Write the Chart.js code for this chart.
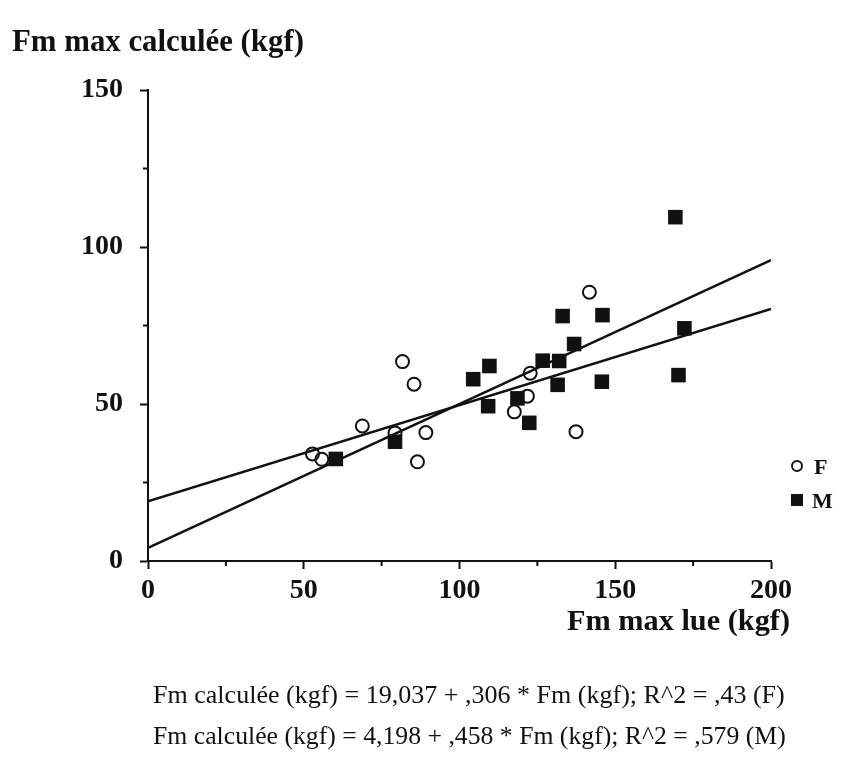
<!DOCTYPE html>
<html><head><meta charset="utf-8">
<script src="https://cdn.jsdelivr.net/npm/chart.js@4.4.1/dist/chart.umd.min.js"></script>
<style>html,body{margin:0;padding:0;background:#fff;} #wrap{position:relative;width:852px;height:765px;}</style>
</head><body><div id="wrap"><canvas id="c" width="852" height="765"></canvas></div>
<script>
// ---- data ----
const femX = [52.8, 55.8, 68.8, 79.3, 81.7, 85.4, 86.5, 89.2, 117.6, 121.8, 122.7, 137.4, 141.7];
const femY = [34.1, 32.4, 43.0, 40.8, 63.5, 56.3, 31.6, 40.9, 47.5, 52.5, 59.8, 41.2, 85.6];
const maleX = [60.3, 79.3, 104.4, 109.2, 109.6, 118.6, 122.4, 126.7, 132.0, 131.5, 133.1, 136.8, 145.7, 145.9, 169.3, 170.3, 172.2];
const maleY = [32.5, 38.0, 57.9, 49.3, 62.1, 51.8, 44.0, 63.8, 63.7, 56.1, 78.0, 69.1, 57.1, 78.3, 109.5, 59.2, 74.1];
const fitX = [0, 200];
const fitF = [19.04, 80.24];
const fitM = [4.20, 95.80];
const xTickLabels = [0, 50, 100, 150, 200];
const yTickLabels = [0, 50, 100, 150];
const xMinorTicks = [25, 75, 125, 175];
const yMinorTicks = [25, 75, 125];
const seriesNames = ['F', 'M'];
const yTitle = 'Fm max calculée (kgf)';
const xTitle = 'Fm max lue (kgf)';
const eqF = 'Fm calculée (kgf) = 19,037 + ,306 * Fm (kgf); R^2 = ,43 (F)';
const eqM = 'Fm calculée (kgf) = 4,198 + ,458 * Fm (kgf); R^2 = ,579 (M)';

const INK = '#111';
const SERIF = '"Liberation Serif", "Times New Roman", serif';
const pts = (xs, ys) => xs.map((x, i) => ({x: x, y: ys[i]}));

function fitText(ctx, txt, weight, x0, x1, base) {
  ctx.font = weight + ' 100px ' + SERIF;
  const w = ctx.measureText(txt).width;
  const size = 100 * (x1 - x0) / w;
  ctx.font = weight + ' ' + size.toFixed(2) + 'px ' + SERIF;
  ctx.fillText(txt, x0, base);
}

const annot = {
  id: 'annot',
  afterDraw(chart) {
    const ctx = chart.ctx;
    const xs = chart.scales.x, ys = chart.scales.y;
    ctx.save();
    // minor ticks (shorter)
    ctx.strokeStyle = INK;
    ctx.lineWidth = 2;
    ctx.beginPath();
    xMinorTicks.forEach(v => { const p = xs.getPixelForValue(v); ctx.moveTo(p, xs.top); ctx.lineTo(p, xs.top + 5); });
    yMinorTicks.forEach(v => { const p = ys.getPixelForValue(v); ctx.moveTo(ys.right, p); ctx.lineTo(ys.right - 5, p); });
    ctx.stroke();

    ctx.fillStyle = INK;
    ctx.textAlign = 'left';
    ctx.textBaseline = 'alphabetic';
    fitText(ctx, yTitle, 'bold', 12, 304, 51);
    fitText(ctx, xTitle, 'bold', 567, 790, 630);
    fitText(ctx, eqF, '', 153, 785, 703);
    fitText(ctx, eqM, '', 153, 786, 744);
    // legend
    ctx.beginPath();
    ctx.arc(797, 466, 5, 0, Math.PI * 2);
    ctx.stroke();
    ctx.fillRect(791, 494, 12, 12);
    ctx.font = 'bold 22px ' + SERIF;
    ctx.fillText(seriesNames[0], 814, 474);
    ctx.fillText(seriesNames[1], 812, 508);
    ctx.restore();
  }
};

const tickFont = {family: SERIF, size: 28, weight: 'bold'};
const majorTickColor = labels => c => (c.tick && labels.includes(c.tick.value)) ? INK : 'rgba(0,0,0,0)';

new Chart(document.getElementById('c'), {
  type: 'scatter',
  data: {
    datasets: [
      {label: seriesNames[0], data: pts(femX, femY), pointStyle: 'circle', pointRadius: 6.5,
       borderWidth: 2, borderColor: INK, backgroundColor: 'rgba(255,255,255,0)', order: 2},
      {label: seriesNames[1], data: pts(maleX, maleY), pointStyle: 'rect', pointRadius: 10.3,
       borderWidth: 0, borderColor: INK, backgroundColor: INK, order: 1},
      {label: 'fitF', type: 'line', data: pts(fitX, fitF), showLine: true, pointRadius: 0,
       borderColor: INK, borderWidth: 2.5, order: 0},
      {label: 'fitM', type: 'line', data: pts(fitX, fitM), showLine: true, pointRadius: 0,
       borderColor: INK, borderWidth: 2.5, order: 0}
    ]
  },
  options: {
    responsive: false,
    animation: false,
    devicePixelRatio: 1,
    layout: {padding: {top: 90, right: 81, left: 0, bottom: 0}},
    plugins: {legend: {display: false}, tooltip: {enabled: false}},
    scales: {
      x: {
        type: 'linear', min: 0, max: 200,
        afterFit: s => { s.height = 204; },
        ticks: {stepSize: 25, autoSkip: false, maxRotation: 0, color: INK, font: tickFont, padding: 5,
                callback: v => xTickLabels.includes(v) ? String(v) : ''},
        grid: {drawOnChartArea: false, tickLength: 8, tickColor: majorTickColor(xTickLabels), tickWidth: 2},
        border: {color: INK, width: 2}
      },
      y: {
        type: 'linear', min: 0, max: 150,
        afterFit: s => { s.width = 148; },
        ticks: {stepSize: 25, autoSkip: false, color: INK, font: tickFont, padding: 17,
                callback: v => yTickLabels.includes(v) ? String(v) : ''},
        grid: {drawOnChartArea: false, tickLength: 8, tickColor: majorTickColor(yTickLabels), tickWidth: 2},
        border: {color: INK, width: 2}
      }
    }
  },
  plugins: [annot]
});
</script>
</body></html>
